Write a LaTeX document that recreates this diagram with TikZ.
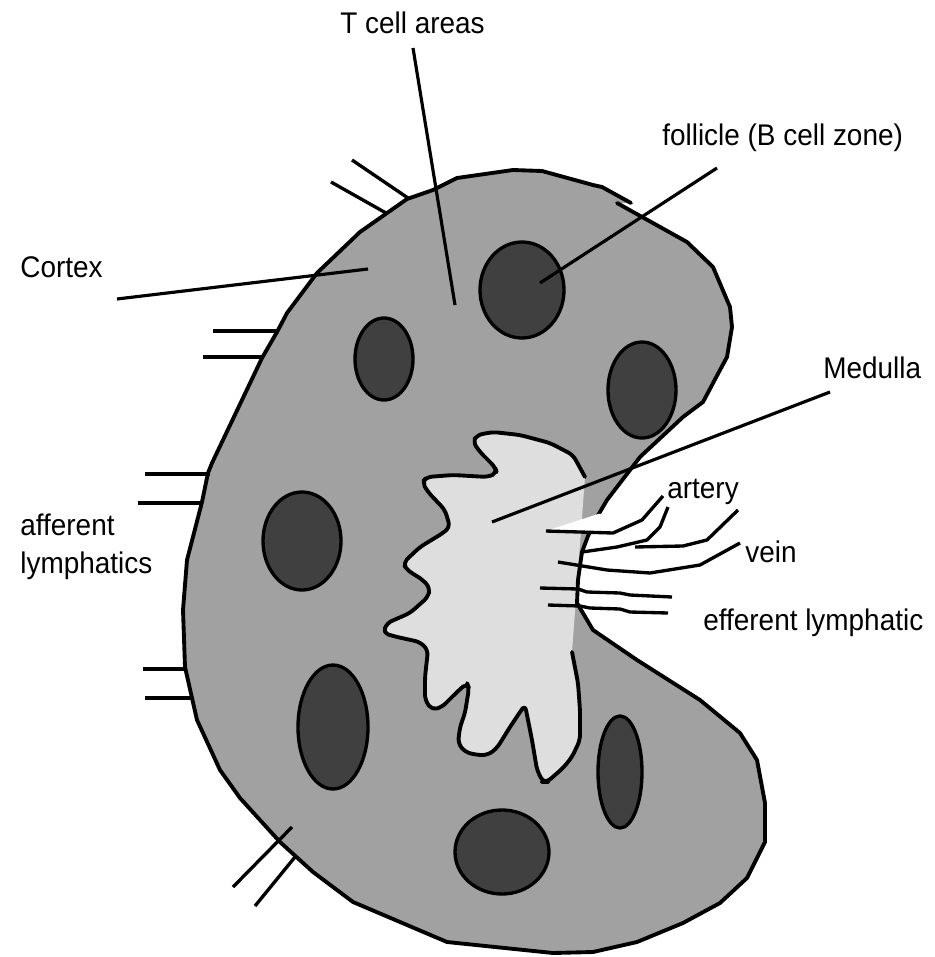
\documentclass[tikz,border=0pt]{standalone}
\usepackage{fontspec}
\setmainfont{Liberation Sans}[FakeStretch=0.935]
\definecolor{cortexgray}{gray}{0.63}
\definecolor{medullagray}{gray}{0.87}
\definecolor{folliclegray}{gray}{0.25}

\begin{document}
\begin{tikzpicture}[x=0.02cm, y=-0.02cm,
			outline/.style={line width=2.2pt, line join=round, line cap=round},
			follicle/.style={draw, line width=1.9pt, fill=folliclegray},
			lead/.style={line width=1.8pt},
			vessel/.style={line width=1.9pt, line join=round},
			label/.style={anchor=base west, inner sep=0pt, font=\fontsize{17}{21.5}\selectfont}
		]
		\useasboundingbox (0,0) rectangle (934,957);

		% node body, cortex
		\fill[cortexgray] (617,203) -- (687,242) -- (713,267) -- (730,307) -- (732,327) -- (727,357) -- (720,370) -- (703,402) -- (683,417) -- (640,457) -- (607,500) -- (597,517) -- (588,536) -- (582,552) -- (578,580) -- (577,603) -- (593,630) -- (637,660) -- (700,700) -- (740,733) -- (757,760) -- (765,803) -- (765,842) -- (747,878) -- (720,903) -- (683,923) -- (637,942) -- (593,952) -- (553,953) -- (447,942) -- (353,902) -- (313,872) -- (280,842) -- (240,798) -- (220,770) -- (197,720) -- (192,698) -- (185,667) -- (183,610) -- (187,560) -- (202,502) -- (208,473) -- (212,463) -- (262,358) -- (277,332) -- (287,313) -- (317,273) -- (360,232) -- (407,199) -- (433,190) -- (457,178) -- (513,170) -- (542,171) -- (593,185) -- (602,187) -- (631,203) -- cycle;

		% medulla
		\fill[medullagray] (585,477) -- (573,455) -- (550,443) -- (520,435) -- (493,432) -- (477,435) -- (473,442) -- (480,452) -- (495,467) -- (497,473) -- (488,477) -- (453,475) -- (427,477) -- (422,482) -- (428,492) -- (445,510) -- (450,527) -- (443,533) -- (420,547) -- (403,563) -- (407,570) -- (423,580) -- (430,588) -- (428,597) -- (410,613) -- (387,623) -- (383,633) -- (397,637) -- (420,642) -- (428,650) -- (425,677) -- (425,700) -- (432,710) -- (442,707) -- (457,692) -- (467,683) -- (469,688) -- (465,713) -- (460,727) -- (458,743) -- (465,752) -- (477,755) -- (488,755) -- (497,748) -- (510,727) -- (520,712) -- (525,705) -- (527,715) -- (532,740) -- (537,770) -- (543,782) -- (547,782) -- (563,768) -- (572,757) -- (580,740) -- (580,710) -- (578,683) -- (572,652) -- cycle;
		\draw[outline, rounded corners=3pt] (585,477) -- (573,455) -- (550,443) -- (520,435) -- (493,432) -- (477,435) -- (473,442) -- (480,452) -- (495,467) -- (497,473) -- (488,477) -- (453,475) -- (427,477) -- (422,482) -- (428,492) -- (445,510) -- (450,527) -- (443,533) -- (420,547) -- (403,563) -- (407,570) -- (423,580) -- (430,588) -- (428,597) -- (410,613) -- (387,623) -- (383,633) -- (397,637) -- (420,642) -- (428,650) -- (425,677) -- (425,700) -- (432,710) -- (442,707) -- (457,692) -- (467,683) -- (469,688) -- (465,713) -- (460,727) -- (458,743) -- (465,752) -- (477,755) -- (488,755) -- (497,748) -- (510,727) -- (520,712) -- (525,705) -- (527,715) -- (532,740) -- (537,770) -- (543,782) -- (547,782) -- (563,768) -- (572,757) -- (580,740) -- (580,710) -- (578,683) -- (572,652);

		% outline of the node
		\draw[outline] (617,203) -- (687,242) -- (713,267) -- (730,307) -- (732,327) -- (727,357) -- (720,370) -- (703,402) -- (683,417) -- (640,457) -- (607,500) -- (597,517) -- (588,536) -- (582,552) -- (578,580) -- (577,603) -- (593,630) -- (637,660) -- (700,700) -- (740,733) -- (757,760) -- (765,803) -- (765,842) -- (747,878) -- (720,903) -- (683,923) -- (637,942) -- (593,952) -- (553,953) -- (447,942) -- (353,902) -- (313,872) -- (280,842) -- (240,798) -- (220,770) -- (197,720) -- (192,698) -- (185,667) -- (183,610) -- (187,560) -- (202,502) -- (208,473) -- (212,463) -- (262,358) -- (277,332) -- (287,313) -- (317,273) -- (360,232) -- (407,199) -- (433,190) -- (457,178) -- (513,170) -- (542,171) -- (593,185) -- (602,187) -- (631,203);

		% follicles
		\draw[follicle] (522,290) ellipse [x radius=42, y radius=48];
		\draw[follicle] (384,359) ellipse [x radius=29, y radius=41];
		\draw[follicle] (642,390) ellipse [x radius=34, y radius=48];
		\draw[follicle] (302,541) ellipse [x radius=39, y radius=49];
		\draw[follicle] (333,727) ellipse [x radius=35, y radius=62];
		\draw[follicle] (620,772) ellipse [x radius=22, y radius=56];
		\draw[follicle] (502,852) ellipse [x radius=47, y radius=42];

		% hilum
		\fill[white] (546,531) -- (598,514) -- (622,512) -- (613,533) -- cycle;
		\draw[vessel] (546,531) -- (613,533) -- (642,520) -- (663,496);
		\draw[vessel] (582,552) -- (617,547) -- (647,540) -- (660,527) -- (668,507);
		\draw[vessel] (635,547) -- (683,546) -- (707,540) -- (738,510);
		\draw[vessel] (558,562) -- (607,570) -- (650,573) -- (700,565) -- (740,543);
		\draw[vessel] (540,588) -- (578,589) -- (587,592) -- (620,593) -- (630,595) -- (672,597);
		\draw[vessel] (548,605) -- (580,606) -- (590,608) -- (620,609) -- (630,612) -- (668,613);

		% afferent lymphatics
		\draw[vessel] (352,160) -- (408,198);
		\draw[vessel] (331,182) -- (386,213);
		\draw[vessel] (213,331) -- (278,331);
		\draw[vessel] (203,357) -- (263,357);
		\draw[vessel] (145,474) -- (210,474);
		\draw[vessel] (138,503) -- (202,503);
		\draw[vessel] (143,669) -- (187,669);
		\draw[vessel] (145,698) -- (193,698);
		\draw[vessel] (233,887) -- (292,827);
		\draw[vessel] (255,906) -- (295,857);

		% labels
		\node[label] (tcell) at (340,33) {T cell areas};
		\node[label] (follicle) at (662,145) {follicle (B cell zone)};
		\node[label] (cortex) at (20,277) {Cortex};
		\node[label] (medulla) at (823,378) {Medulla};
		\node[label] (artery) at (667,498) {artery};
		\node[label] (vein) at (745,562) {vein};
		\node[label] (efferent) at (703,630) {efferent lymphatic};
		\node[label, align=left] (afferent) at (20,573) {afferent\\lymphatics};

		% pointer lines
		\coordinate (tcell-a) at (413,48);
		\coordinate (tcell-b) at (455,305);
		\coordinate (follicle-a) at (717,168);
		\coordinate (follicle-b) at (540,283);
		\coordinate (cortex-a) at (117,299);
		\coordinate (cortex-b) at (368,269);
		\coordinate (medulla-a) at (830,392);
		\coordinate (medulla-b) at (492,522);
		\draw[lead] (tcell-a) -- (tcell-b);
		\draw[lead] (follicle-a) -- (follicle-b);
		\draw[lead] (cortex-a) -- (cortex-b);
		\draw[lead] (medulla-a) -- (medulla-b);

	\end{tikzpicture}
\end{document}
